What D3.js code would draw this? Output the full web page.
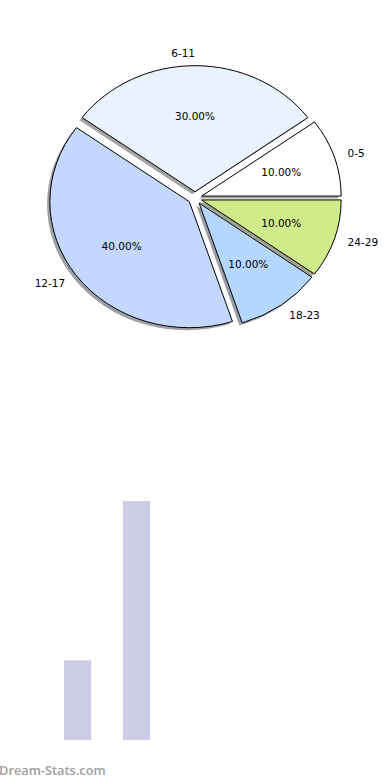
<!DOCTYPE html>
<html>
<head>
<meta charset="utf-8">
<script src="https://cdn.jsdelivr.net/npm/d3@7"></script>
<style>
  body { margin: 0; background: #fff; }
  svg { display: block; }
</style>
</head>
<body>
<div id="chart"></div>
<script>
// Pie data
const ageGroups = ["0-5", "6-11", "12-17", "18-23", "24-29"];
const sharePct = [10, 30, 40, 10, 10];
const sliceColors = ["#ffffff", "#eaf2ff", "#c4d8ff", "#b4d6ff", "#cfeb8a"];

// Bar data
const barCategories = ["A", "B"];
const barValues = [1, 3];

const svg = d3.select("#chart")
   .append("svg")
   .attr("width", 390)
   .attr("height", 780);

// pie (matplotlib style: starts at 3 o'clock, counterclockwise, exploded, shadowed)
const cx = 195, cy = 198;
const rx = 139.5, ry = 126;
const explode = 0.05;

const pie = d3.pie()
   .sort(null)
   .value(d => d)
   .startAngle(Math.PI / 2)
   .endAngle(Math.PI / 2 - 2 * Math.PI);

const arcs = pie(sharePct);

// d3 angles: 0 at 12 o'clock, clockwise. convert to math angle
const toMath = a => Math.PI / 2 - a;

const arc = d3.arc().innerRadius(0).outerRadius(1);

function slicePath(d) {
   // unit circle, stretched to the ellipse by the transform
   return arc({ startAngle: d.endAngle, endAngle: d.startAngle });
}

const pieG = svg.append("g");

arcs.forEach(d => {
   const mid = toMath((d.startAngle + d.endAngle) / 2);
   d.mid = mid;
   d.ox = cx + explode * rx * Math.cos(mid);
   d.oy = cy - explode * ry * Math.sin(mid);
});

// shadows first
arcs.forEach((d, i) => {
   const c = d3.rgb(sliceColors[i]);
   pieG.append("path")
      .attr("d", slicePath(d))
      .attr("transform", `translate(${d.ox - 0.02 * rx},${d.oy + 0.02 * ry}) scale(${rx},${ry})`)
      .attr("fill", d3.rgb(c.r * 0.3, c.g * 0.3, c.b * 0.3))
      .attr("fill-opacity", 0.5);
});

arcs.forEach((d, i) => {
   pieG.append("path")
      .attr("d", slicePath(d))
      .attr("transform", `translate(${d.ox},${d.oy}) scale(${rx},${ry})`)
      .attr("fill", sliceColors[i])
      .attr("stroke", "#000")
      .attr("stroke-width", 1)
      .attr("vector-effect", "non-scaling-stroke");
});

arcs.forEach((d, i) => {
   const c = Math.cos(d.mid), s = Math.sin(d.mid);
   pieG.append("text")
      .attr("x", d.ox + 1.1 * rx * c)
      .attr("y", d.oy - 1.1 * ry * s)
      .attr("dy", "0.35em")
      .attr("text-anchor", c > 0.001 ? "start" : "end")
      .attr("font-family", "DejaVu Sans, sans-serif")
      .attr("font-size", 10.5)
      .text(ageGroups[i]);

   pieG.append("text")
      .attr("x", d.ox + 0.6 * rx * c)
      .attr("y", d.oy - 0.6 * ry * s)
      .attr("dy", "0.35em")
      .attr("text-anchor", "middle")
      .attr("font-family", "DejaVu Sans, sans-serif")
      .attr("font-size", 10.5)
      .text(d3.format(".2f")(sharePct[i]) + "%");
});

// Bar chart
const barX = d3.scaleBand()
   .domain(barCategories)
   .range([64, 150])
   .paddingInner(0.54)
   .paddingOuter(0);

const barY = d3.scaleLinear()
   .domain([0, d3.max(barValues)])
   .range([740, 501]);

svg.selectAll(".bar")
   .data(barValues)
   .enter()
   .append("rect")
   .attr("class", "bar")
   .attr("x", (d, i) => barX(barCategories[i]))
   .attr("y", d => barY(d))
   .attr("width", barX.bandwidth())
   .attr("height", d => barY(0) - barY(d))
   .attr("fill", "#cccce6");

// watermark
svg.append("text")
   .attr("x", -1)
   .attr("y", 775)
   .attr("font-family", "Open Sans, sans-serif")
   .attr("font-size", 12.8)
   .attr("font-weight", 600)
   .attr("fill", "#a0a0a0")
   .text("Dream-Stats.com");
</script>
</body>
</html>
